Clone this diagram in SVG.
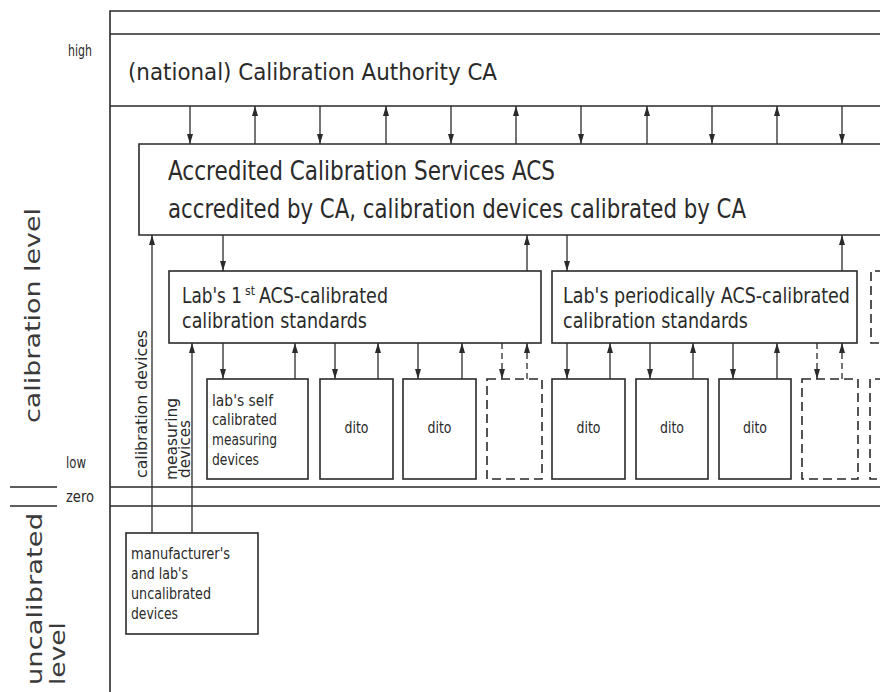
<svg xmlns="http://www.w3.org/2000/svg" width="880" height="692" viewBox="0 0 880 692">
<defs>
<style>
.ln{stroke:#2a2a2a;stroke-width:1.6;fill:none}
.bx{stroke:#2a2a2a;stroke-width:1.6;fill:#fff}
.dbx{stroke:#2a2a2a;stroke-width:1.6;fill:#fff;stroke-dasharray:9,5}
.cn{stroke:#2a2a2a;stroke-width:1.3;fill:none;marker-end:url(#ah)}
.dcn{stroke:#2a2a2a;stroke-width:1.3;fill:none;stroke-dasharray:6,4;marker-end:url(#ah)}
.t{font-family:"DejaVu Sans Condensed","Liberation Sans Narrow","DejaVu Sans",sans-serif;fill:#2a2a2a}
.ca{font-size:23px}
.big{font-size:26px}
.mid{font-size:21px}
.sm{font-size:16px}
.xs{font-size:15px}
.lv{font-family:"DejaVu Sans",sans-serif;fill:#3a3a3a;font-size:22px}
</style>
<marker id="ah" viewBox="0 0 10 6" markerWidth="10" markerHeight="6" refX="10" refY="3" orient="auto" markerUnits="userSpaceOnUse">
<path d="M0,0 L10,3 L0,6 z" fill="#2a2a2a"/>
</marker>
</defs>
<rect width="880" height="692" fill="#fff"/>

<g id="frame">
<path class="ln" d="M110,692 V11 H880 M110,34 H880 M110,106 H880 M110,487 H880 M110,506 H880 M10,487 H57 M10,506 H57"/>
</g>

<g id="scale-labels">
<text class="t xs" x="68" y="56" textLength="24" lengthAdjust="spacingAndGlyphs">high</text>
<text class="t xs" x="66" y="468" textLength="20" lengthAdjust="spacingAndGlyphs">low</text>
<text class="t xs" x="66" y="502" textLength="28" lengthAdjust="spacingAndGlyphs">zero</text>
<text class="lv" transform="translate(40,423) rotate(-90)" textLength="215" lengthAdjust="spacingAndGlyphs">calibration level</text>
<text class="lv" transform="translate(42,685) rotate(-90)" textLength="172" lengthAdjust="spacingAndGlyphs">uncalibrated</text>
<text class="lv" transform="translate(65,685) rotate(-90)" textLength="63" lengthAdjust="spacingAndGlyphs">level</text>
</g>

<g id="ca">
<text class="t ca" x="128" y="80" textLength="369" lengthAdjust="spacingAndGlyphs">(national) Calibration Authority CA</text>
</g>

<g id="acs">
<path class="bx" d="M882,144 H139 V235 H882"/>
<text class="t big" x="168" y="180" textLength="387" lengthAdjust="spacingAndGlyphs">Accredited Calibration Services ACS</text>
<text class="t big" x="168" y="218" textLength="578" lengthAdjust="spacingAndGlyphs">accredited by CA, calibration devices calibrated by CA</text>
</g>

<g id="lab1">
<rect class="bx" x="169" y="271" width="372" height="72"/>
<text class="t mid" x="182" y="303" textLength="60" lengthAdjust="spacingAndGlyphs">Lab's 1</text>
<text class="t" font-size="13" x="245" y="295" textLength="10" lengthAdjust="spacingAndGlyphs">st</text>
<text class="t mid" x="259" y="303" textLength="129" lengthAdjust="spacingAndGlyphs">ACS-calibrated</text>
<text class="t mid" x="182" y="328" textLength="185" lengthAdjust="spacingAndGlyphs">calibration standards</text>
</g>

<g id="lab2">
<rect class="bx" x="552" y="271" width="305" height="72"/>
<text class="t mid" x="563" y="303" textLength="287" lengthAdjust="spacingAndGlyphs">Lab's periodically ACS-calibrated</text>
<text class="t mid" x="563" y="328" textLength="185" lengthAdjust="spacingAndGlyphs">calibration standards</text>
</g>

<g id="lab3">
<path class="dbx" d="M884,271 H871 V343 H884"/>
</g>

<g id="self">
<rect class="bx" x="207" y="379" width="101" height="100"/>
<text class="t sm" x="212" y="406" textLength="61" lengthAdjust="spacingAndGlyphs">lab's self</text>
<text class="t sm" x="212" y="425" textLength="65" lengthAdjust="spacingAndGlyphs">calibrated</text>
<text class="t sm" x="212" y="445" textLength="65" lengthAdjust="spacingAndGlyphs">measuring</text>
<text class="t sm" x="212" y="465" textLength="47" lengthAdjust="spacingAndGlyphs">devices</text>
</g>

<g id="dito1"><rect class="bx" x="320" y="379" width="73" height="100"/><text class="t xs" x="344.5" y="433" textLength="24" lengthAdjust="spacingAndGlyphs">dito</text></g>
<g id="dito2"><rect class="bx" x="403" y="379" width="73" height="100"/><text class="t xs" x="427.5" y="433" textLength="24" lengthAdjust="spacingAndGlyphs">dito</text></g>
<g id="more1"><rect class="dbx" x="487" y="379" width="55" height="100"/></g>
<g id="dito3"><rect class="bx" x="552" y="379" width="73" height="100"/><text class="t xs" x="576.5" y="433" textLength="24" lengthAdjust="spacingAndGlyphs">dito</text></g>
<g id="dito4"><rect class="bx" x="636" y="379" width="72" height="100"/><text class="t xs" x="660" y="433" textLength="24" lengthAdjust="spacingAndGlyphs">dito</text></g>
<g id="dito5"><rect class="bx" x="719" y="379" width="72" height="100"/><text class="t xs" x="743" y="433" textLength="24" lengthAdjust="spacingAndGlyphs">dito</text></g>
<g id="more2"><rect class="dbx" x="802" y="379" width="56" height="100"/></g>
<g id="more3"><path class="dbx" d="M884,379 H870 V479 H884"/></g>

<g id="uncal">
<rect class="bx" x="126" y="533" width="132" height="101"/>
<text class="t xs" x="131" y="559" textLength="99" lengthAdjust="spacingAndGlyphs">manufacturer's</text>
<text class="t xs" x="131" y="579" textLength="57" lengthAdjust="spacingAndGlyphs">and lab's</text>
<text class="t xs" x="131" y="599" textLength="80" lengthAdjust="spacingAndGlyphs">uncalibrated</text>
<text class="t xs" x="131" y="619" textLength="47" lengthAdjust="spacingAndGlyphs">devices</text>
</g>

<g id="connectors">
<line class="cn" x1="190" y1="106" x2="190" y2="144"/>
<line class="cn" x1="255" y1="144" x2="255" y2="106"/>
<line class="cn" x1="320" y1="106" x2="320" y2="144"/>
<line class="cn" x1="386" y1="144" x2="386" y2="106"/>
<line class="cn" x1="451" y1="106" x2="451" y2="144"/>
<line class="cn" x1="516" y1="144" x2="516" y2="106"/>
<line class="cn" x1="581" y1="106" x2="581" y2="144"/>
<line class="cn" x1="647" y1="144" x2="647" y2="106"/>
<line class="cn" x1="712" y1="106" x2="712" y2="144"/>
<line class="cn" x1="777" y1="144" x2="777" y2="106"/>
<line class="cn" x1="842" y1="106" x2="842" y2="144"/>

<line class="cn" x1="223" y1="235" x2="223" y2="271"/>
<line class="cn" x1="527" y1="271" x2="527" y2="235"/>
<line class="cn" x1="567" y1="235" x2="567" y2="271"/>
<line class="cn" x1="842" y1="271" x2="842" y2="235"/>

<line class="cn" x1="223" y1="343" x2="223" y2="379"/>
<line class="cn" x1="295" y1="379" x2="295" y2="343"/>
<line class="cn" x1="335" y1="343" x2="335" y2="379"/>
<line class="cn" x1="378" y1="379" x2="378" y2="343"/>
<line class="cn" x1="418" y1="343" x2="418" y2="379"/>
<line class="cn" x1="462" y1="379" x2="462" y2="343"/>
<line class="dcn" x1="502" y1="343" x2="502" y2="379"/>
<line class="dcn" x1="527" y1="379" x2="527" y2="343"/>
<line class="cn" x1="567" y1="343" x2="567" y2="379"/>
<line class="cn" x1="610" y1="379" x2="610" y2="343"/>
<line class="cn" x1="650" y1="343" x2="650" y2="379"/>
<line class="cn" x1="693" y1="379" x2="693" y2="343"/>
<line class="cn" x1="733" y1="343" x2="733" y2="379"/>
<line class="cn" x1="777" y1="379" x2="777" y2="343"/>
<line class="dcn" x1="817" y1="343" x2="817" y2="379"/>
<line class="dcn" x1="842" y1="379" x2="842" y2="343"/>

<line class="cn" x1="152" y1="533" x2="152" y2="235"/>
<line class="cn" x1="192" y1="533" x2="192" y2="343"/>
<text class="t sm" transform="translate(147,478) rotate(-90)" textLength="148" lengthAdjust="spacingAndGlyphs">calibration devices</text>
<text class="t xs" transform="translate(177,480) rotate(-90)" textLength="82" lengthAdjust="spacingAndGlyphs">measuring</text>
<text class="t xs" transform="translate(190,478) rotate(-90)" textLength="58" lengthAdjust="spacingAndGlyphs">devices</text>
</g>
</svg>
